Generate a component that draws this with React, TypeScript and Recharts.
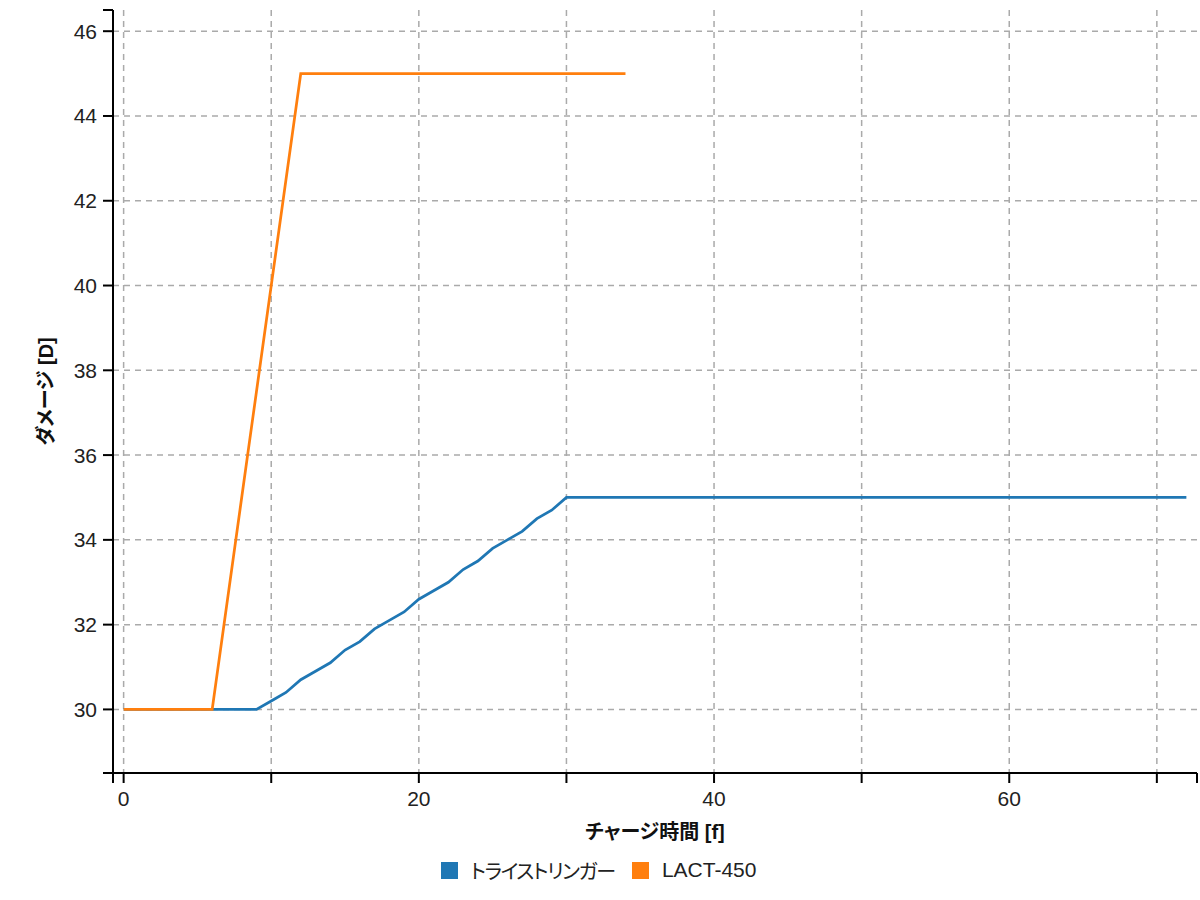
import React from "react";
import {
  LineChart,
  Line,
  XAxis,
  YAxis,
  CartesianGrid,
  Legend,
} from "recharts";

// trigger frames vs damage
const triFrames = [0, 9, 10, 11, 12, 13, 14, 15, 16, 17, 18, 19, 20, 21, 22, 23, 24, 25, 26, 27, 28, 29, 30, 72];
const triDamage = [30, 30, 30.2, 30.4, 30.7, 30.9, 31.1, 31.4, 31.6, 31.9, 32.1, 32.3, 32.6, 32.8, 33.0, 33.3, 33.5, 33.8, 34.0, 34.2, 34.5, 34.7, 35.0, 35.0];

const lactFrames = [0, 6, 12, 34];
const lactDamage = [30, 30, 45, 45];

const seriesNames = ["トライストリンガー", "LACT-450"];
const seriesColors = ["#1f77b4", "#ff7f0e"];

const xDomain = [-0.72, 72.72];
const yDomain = [28.5, 46.5];
const xTicks = [xDomain[0], 0, 10, 20, 30, 40, 50, 60, 70, xDomain[1]];
const yTicks = [yDomain[0], 30, 32, 34, 36, 38, 40, 42, 44, 46, yDomain[1]];
const xGrid = [0, 10, 20, 30, 40, 50, 60, 70];
const yGrid = [30, 32, 34, 36, 38, 40, 42, 44, 46];

const triData = triFrames.map((f, i) => ({ frame: f, damage: triDamage[i] }));
const lactData = lactFrames.map((f, i) => ({ frame: f, damage: lactDamage[i] }));

const FONT = "'Liberation Sans', Arial, 'Noto Sans CJK JP', sans-serif";

function LegendBox() {
  return (
    <div
      style={{
        height: 30,
        display: "flex",
        justifyContent: "center",
        alignItems: "center",
        fontFamily: FONT,
        fontSize: 21,
        color: "#222",
        fontFeatureSettings: "'palt'",
      }}
    >
      {seriesNames.map((name, i) => {
        const isJa = /[^\x00-\x7f]/.test(name);
        return (
          <div key={name} style={{ display: "flex", alignItems: "center", marginRight: i === 0 ? 17 : 0 }}>
            <span
              style={{
                width: 17,
                height: 17,
                background: seriesColors[i],
                display: "inline-block",
                marginRight: 13,
              }}
            />
            <span style={isJa ? { fontSize: 20, letterSpacing: -1.3 } : undefined}>{name}</span>
          </div>
        );
      })}
    </div>
  );
}

export default function App() {
  const tickStyle = { fontSize: 21, fill: "#222", fontFamily: FONT };
  const labelStyle = { fontSize: 20, fontWeight: "bold", fill: "#111", fontFamily: FONT };

  return (
    <div style={{ position: "absolute", left: 0, top: 0, fontFeatureSettings: "'palt'" }}>
      <LineChart
        width={1200}
        height={900}
        margin={{ top: 10, right: 3, bottom: 15, left: 0 }}
        style={{ fontFamily: FONT }}
      >
        <CartesianGrid
          stroke="#aaa"
          strokeWidth={1.5}
          strokeDasharray="6 5"
          verticalCoordinatesGenerator={({ xAxis, offset }: any) =>
            xGrid.map((v) =>
              typeof xAxis?.scale === "function"
                ? xAxis.scale(v)
                : offset.left + ((v - xDomain[0]) / (xDomain[1] - xDomain[0])) * offset.width
            )
          }
          horizontalCoordinatesGenerator={({ yAxis, offset }: any) =>
            yGrid.map((v) =>
              typeof yAxis?.scale === "function"
                ? yAxis.scale(v)
                : offset.top + offset.height - ((v - yDomain[0]) / (yDomain[1] - yDomain[0])) * offset.height
            )
          }
        />
        <XAxis
          type="number"
          dataKey="frame"
          domain={xDomain}
          ticks={xTicks}
          interval={0}
          allowDataOverflow
          height={82}
          tickSize={10}
          tickMargin={8}
          tick={tickStyle}
          tickFormatter={(v: number) => (v % 20 === 0 ? String(v) : "")}
          stroke="#000"
          strokeWidth={2}
          label={{
            value: "チャージ時間 [f]",
            position: "insideTop",
            offset: 52,
            style: labelStyle,
          }}
        />
        <YAxis
          type="number"
          dataKey="damage"
          domain={yDomain}
          ticks={yTicks}
          interval={0}
          allowDataOverflow
          width={113}
          tickSize={10}
          tickMargin={6}
          tick={tickStyle}
          tickFormatter={(v: number) => (Number.isInteger(v) && v % 2 === 0 ? String(v) : "")}
          stroke="#000"
          strokeWidth={2}
          label={{
            value: "ダメージ [D]",
            angle: -90,
            position: "center",
            dx: -11,
            style: labelStyle,
          }}
        />
        <Legend verticalAlign="bottom" content={() => <LegendBox />} />
        <Line
          data={triData}
          dataKey="damage"
          name={seriesNames[0]}
          type="linear"
          stroke={seriesColors[0]}
          strokeWidth={2.75}
          dot={false}
          activeDot={false}
          isAnimationActive={false}
        />
        <Line
          data={lactData}
          dataKey="damage"
          name={seriesNames[1]}
          type="linear"
          stroke={seriesColors[1]}
          strokeWidth={2.75}
          dot={false}
          activeDot={false}
          isAnimationActive={false}
        />
      </LineChart>
    </div>
  );
}
